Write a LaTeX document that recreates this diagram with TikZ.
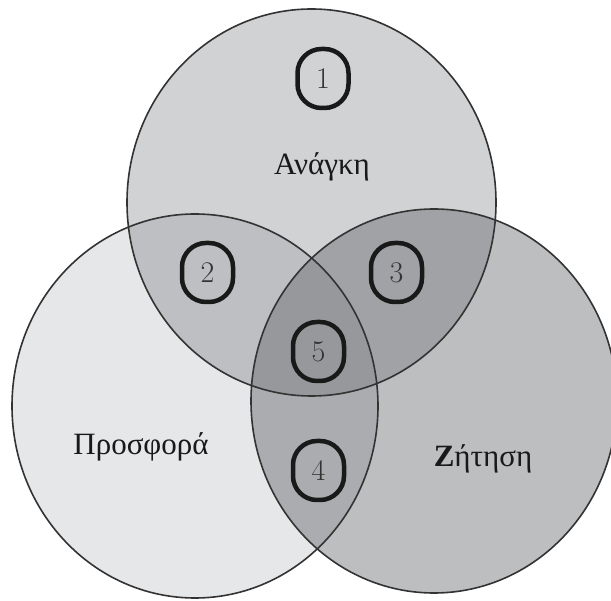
\documentclass[tikz,border=0pt]{standalone}
\usepackage{fontspec}
\newfontfamily\greekfont{Liberation Serif}
\usetikzlibrary{positioning}

\definecolor{needfill}{HTML}{D1D2D4}
\definecolor{offerfill}{HTML}{E6E7E8}
\definecolor{demandfill}{HTML}{BCBEC0}
\definecolor{needoffer}{HTML}{BEBFC2}
\definecolor{needdemand}{HTML}{A1A2A5}
\definecolor{offerdemand}{HTML}{ABACAF}
\definecolor{allthree}{HTML}{97989B}

%% the three sets
\def\needset{(311.5,202.5) ellipse [x radius=184.5, y radius=193.5]}
\def\offerset{(195,406) ellipse [x radius=183, y radius=192]}
\def\demandset{(434,401) ellipse [x radius=183, y radius=192]}

\begin{document}
\begin{tikzpicture}[
        x=1pt, y=-1pt,
        setline/.style={draw=black!80, line width=1.6pt},
        setlabel/.style={anchor=base, inner sep=0pt, text=black!90, font=\greekfont\fontsize{31}{37}\selectfont},
        badge/.style={draw=black!90, line width=4.5pt, rounded corners=24pt, minimum width=51pt, minimum height=59pt, inner sep=0pt, text=black!80, font=\fontsize{30}{36}\selectfont},
    ]
    \clip (0,0) rectangle (611,601);

    %% ===== Single regions =====
    \fill[needfill] \needset;
    \fill[offerfill] \offerset;
    \fill[demandfill] \demandset;

    %% ===== Pairwise overlaps =====
    \begin{scope}
        \clip \needset;
        \fill[needoffer] \offerset;
    \end{scope}
    \begin{scope}
        \clip \needset;
        \fill[needdemand] \demandset;
    \end{scope}
    \begin{scope}
        \clip \offerset;
        \fill[offerdemand] \demandset;
    \end{scope}

    %% ===== Common core =====
    \begin{scope}
        \clip \needset;
        \clip \offerset;
        \fill[allthree] \demandset;
    \end{scope}

    %% ===== Outlines =====
    \draw[setline] \needset;
    \draw[setline] \offerset;
    \draw[setline] \demandset;

    %% ===== Labels =====
    \node[setlabel] (need) at (322,175) {Ανάγκη};
    \node[setlabel] (offer) at (141,455) {Προσφορά};
    \node[setlabel] (demand) at (483,467) {{\bfseries Ζ}ήτηση};

    %% ===== Numbered regions =====
    \node[badge] (r1) at (323,78.5) {1};
    \node[badge] (r2) at (207.5,272.5) {2};
    \node[badge] (r3) at (396.5,272.5) {3};
    \node[badge] (r5) at (318.5,351.5) {5};
    \node[badge] (r4) at (318.5,470.5) {4};

\end{tikzpicture}
\end{document}
